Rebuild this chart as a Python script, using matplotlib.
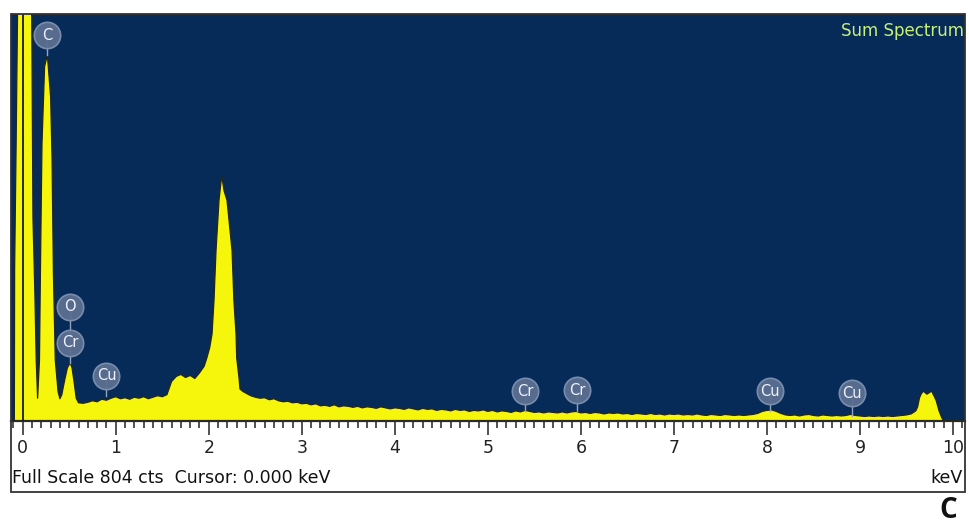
# EDS sum spectrum (full scale 804 cts) recreated with matplotlib

import numpy as np
import matplotlib.pyplot as plt
from matplotlib.patches import Rectangle
from matplotlib.ticker import MultipleLocator

# --- spectrum data (keV, counts) ---
# zero peak + C K + O K / Cr L region
low_kev = [-0.13, -0.09, -0.087, -0.07, -0.05, -0.03, 0.03, 0.085, 0.097, 0.11, 0.13,
           0.145, 0.16, 0.18, 0.19, 0.207, 0.235, 0.265, 0.30, 0.315, 0.33, 0.35, 0.38,
           0.40, 0.42, 0.45, 0.48, 0.51, 0.53, 0.55, 0.575, 0.60]
low_cts = [0, 0, 300, 560, 900, 1600, 2500, 1500, 800, 400, 257,
           120, 45, 120, 290, 548, 700, 723, 640, 520, 290, 120, 58,
           44, 52, 80, 105, 115, 105, 80, 45, 36]

# background 0.65 - 1.55 keV, 0.05 keV channels
bg1_start = 0.65
bg1_cts = [35, 37, 40, 38, 43, 41, 45, 48, 44, 46,
           43, 47, 45, 48, 44, 47, 50, 48, 52]

# shoulder + main peak near 2.14 keV
mid_kev = [1.60, 1.65, 1.70, 1.75, 1.80, 1.85, 1.90, 1.95, 1.98, 2.01, 2.035, 2.056,
           2.078, 2.11, 2.139, 2.164, 2.196, 2.25, 2.27, 2.293, 2.30, 2.325, 2.336,
           2.37, 2.40]
mid_cts = [78, 88, 92, 86, 90, 84, 95, 108, 125, 145, 172, 238,
           337, 436, 485, 455, 436, 337, 238, 172, 125, 85, 63,
           58, 55]

# background 2.45 - 9.55 keV, 0.05 keV channels
bg2_start = 2.45
bg2_cts = [50, 47, 45, 46, 42, 44, 40, 38, 39, 36,
           37, 34, 35, 32, 34, 30, 31, 29, 32, 28,
           30, 29, 27, 29, 26, 28, 27, 25, 28, 26,
           24, 26, 25, 23, 26, 24, 22, 25, 23, 24,
           21, 23, 22, 20, 23, 21, 22, 19, 21, 20,
           22, 19, 21, 18, 20, 19, 17, 20, 18, 21,
           19, 17, 18, 16, 18, 17, 16, 18, 16, 18,
           19, 16, 17, 15, 17, 16, 14, 16, 15, 16,
           14, 15, 13, 15, 14, 13, 15, 13, 14, 12,
           14, 13, 14, 12, 13, 12, 14, 12, 11, 13,
           12, 11, 13, 12, 11, 12, 11, 12, 13, 15,
           19, 21, 22, 19, 15, 12, 11, 12, 10, 12,
           13, 11, 10, 12, 11, 10, 11, 10, 11, 13,
           11, 10, 9, 10, 9, 10, 9, 10, 9, 10,
           11, 12, 14]

# double-topped peak near 9.7 keV, then nothing
high_kev = [9.60, 9.62, 9.64, 9.66, 9.68, 9.72, 9.77, 9.80, 9.82, 9.85, 9.88, 9.90, 10.3]
high_cts = [20, 28, 46, 54, 59, 53, 59, 48, 40, 20, 6, 0, 0]

# element markers
badge_sym = ["C", "O", "Cr", "Cu", "Cr", "Cr", "Cu", "Cu"]
badge_kev = [0.264, 0.508, 0.512, 0.90, 5.40, 5.96, 8.03, 8.91]
badge_cts = [762, 226, 155, 89, 59, 61, 59, 55]
stem_end_cts = [723, 155, 115, 50, 20, 20, 20, 10]

FULL_SCALE = 804
NAVY = "#072b59"
YELLOW = "#f6f60c"

# join the segments into one spectrum
bg1_kev = bg1_start + 0.05 * np.arange(len(bg1_cts))
bg2_kev = bg2_start + 0.05 * np.arange(len(bg2_cts))
kev = np.concatenate([low_kev, bg1_kev, mid_kev, bg2_kev, high_kev])
cts = np.concatenate([low_cts, bg1_cts, mid_cts, bg2_cts, high_cts])

W, H = 969, 529
fig = plt.figure(figsize=(W / 100, H / 100), dpi=100)
fig.patch.set_facecolor("white")

# spectrum panel (pixel box 11..965 x 14..421)
ax = fig.add_axes([11 / W, 1 - 421 / H, 954 / W, 407 / H])
ax.set_facecolor(NAVY)
ax.fill_between(kev, cts, 0, color=YELLOW, lw=0, zorder=2)
ax.plot(kev, cts, color="#262612", lw=0.9, zorder=3)
ax.axvline(0, color="#1c1c1c", lw=1.3, zorder=4)  # cursor at 0.000 keV

ax.set_xlim(-0.126, 10.129)
ax.set_ylim(0, FULL_SCALE)
ax.set_yticks([])
ax.xaxis.set_major_locator(MultipleLocator(1))
ax.xaxis.set_minor_locator(MultipleLocator(0.1))
ax.set_xticks(range(11))
ax.set_xticklabels([str(i) for i in range(11)], fontsize=12.5, color="#222222")
ax.tick_params(axis="x", which="major", direction="out", length=10, width=1.1,
               color="#222222", pad=3)
ax.tick_params(axis="x", which="minor", direction="out", length=5, width=1.1,
               color="#222222")
for s in ["left", "top", "right"]:
    ax.spines[s].set_visible(False)
ax.spines["bottom"].set_color("#2a2a2a")
ax.spines["bottom"].set_linewidth(1.6)

# element badges with stems
for sym, e, y, y0 in zip(badge_sym, badge_kev, badge_cts, stem_end_cts):
    ax.plot([e, e], [y0, y], color="#93a4c0", lw=1.0, zorder=5)
    ax.scatter([e], [y], s=360, color="#5b6f90", edgecolors="#7d90ae",
               linewidths=1.2, alpha=0.95, zorder=6)
    ax.text(e, y, sym, ha="center", va="center", fontsize=10.5,
            color="#eef2fa", zorder=7)

ax.text(0.999, 0.958, "Sum Spectrum", transform=ax.transAxes, ha="right",
        va="center", fontsize=12, color="#c8f078")

# outer frame around spectrum + scale strip
fig.patches.append(Rectangle((11 / W, 1 - 492 / H), 954 / W, 478 / H,
                             transform=fig.transFigure, fill=False,
                             edgecolor="#333333", lw=1.3))

fig.text(12 / W, 1 - 478 / H, "Full Scale 804 cts  Cursor: 0.000 keV",
         ha="left", va="center", fontsize=12.5, color="#111111")
fig.text(963 / W, 1 - 478 / H, "keV", ha="right", va="center",
         fontsize=12.5, color="#111111")
fig.text(948 / W, 1 - 510 / H, "C", ha="center", va="center", fontsize=20,
         fontweight="bold", family=["Open Sans", "DejaVu Sans"], color="#111111")

fig.savefig("out.png", dpi=100)
